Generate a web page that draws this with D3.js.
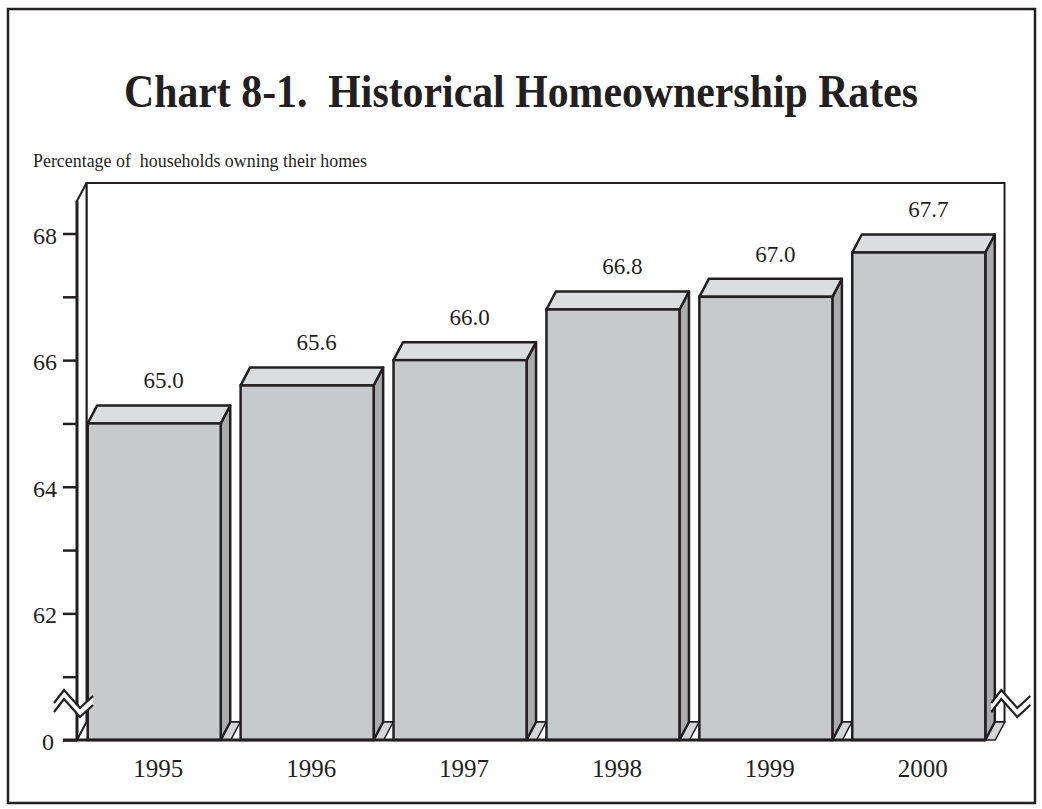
<!DOCTYPE html>
<html>
<head>
<meta charset="utf-8">
<script src="https://cdn.jsdelivr.net/npm/d3@7"></script>
<style>
  html, body { margin: 0; padding: 0; background: #fff; }
  svg text { font-family: "Liberation Serif", "Times New Roman", serif; fill: #231f20; white-space: pre; }
</style>
</head>
<body>
<div id="chart"></div>
<script>
// data
var years = ["1995", "1996", "1997", "1998", "1999", "2000"];
var rates = [65.0, 65.6, 66.0, 66.8, 67.0, 67.7];
var yTicks = [60, 61, 62, 63, 64, 65, 66, 67, 68];
var yTickLabels = ["0", "", "62", "", "64", "", "66", "", "68"];
var title = "Chart 8-1.  Historical Homeownership Rates";
var subtitle = "Percentage of  households owning their homes";

var W = 1042, H = 809;
var ink = "#231f20";
var dx = 9.5, dy = 18;          // depth offset of the 3d look
var base = 740;                 // front floor line
var axisX = 77;

var svg = d3.select("#chart").append("svg")
    .attr("width", W)
    .attr("height", H);

// outer frame
svg.append("rect")
    .attr("x", 8).attr("y", 9)
    .attr("width", 1027).attr("height", 794)
    .attr("fill", "none").attr("stroke", ink).attr("stroke-width", 2.5);

// titles
svg.append("text")
    .attr("x", 124).attr("y", 107)
    .attr("textLength", 794).attr("lengthAdjust", "spacingAndGlyphs")
    .style("font-size", "46px").style("font-weight", "bold")
    .text(title);
svg.append("text")
    .attr("x", 33).attr("y", 167)
    .attr("textLength", 334).attr("lengthAdjust", "spacingAndGlyphs")
    .style("font-size", "18.5px")
    .text(subtitle);

// scales
var x = d3.scaleBand()
    .domain(years)
    .range([axisX, 996])
    .paddingInner(0.13)
    .paddingOuter(0.07);
var y = d3.scaleLinear()
    .domain([60, 68])
    .range([base, 233.5]);

var bw = x.bandwidth();
var yTop = 201;                 // top of the front axis
var wallL = axisX + dx, wallR = 1004.5;

// back wall
svg.append("rect")
    .attr("x", wallL).attr("y", yTop - dy)
    .attr("width", wallR - wallL).attr("height", base - yTop)
    .attr("fill", "#fff").attr("stroke", ink).attr("stroke-width", 2);

// left wall
svg.append("polygon")
    .attr("points", [[axisX, yTop], [wallL, yTop - dy], [wallL, base - dy], [axisX, base]].join(" "))
    .attr("fill", "#fff").attr("stroke", ink).attr("stroke-width", 2)
    .attr("stroke-linejoin", "round");

// bars
var g = svg.append("g");
years.forEach(function(yr, i) {
    var x0 = x(yr), x1 = x0 + bw, yv = y(rates[i]);

    // floor strip behind the bar
    g.append("polygon")
        .attr("points", [[x1, base], [x1 + 10, base], [x1 + 10 + dx, base - dy], [x1 + dx, base - dy]].join(" "))
        .attr("fill", "#d4d5d7").attr("stroke", ink).attr("stroke-width", 1.5);

    // side
    g.append("polygon")
        .attr("points", [[x1, yv], [x1 + dx, yv - dy], [x1 + dx, base - dy], [x1, base]].join(" "))
        .attr("fill", "#a9abae").attr("stroke", ink).attr("stroke-width", 2.5)
        .attr("stroke-linejoin", "round");

    // top
    g.append("polygon")
        .attr("points", [[x0, yv], [x0 + dx, yv - dy], [x1 + dx, yv - dy], [x1, yv]].join(" "))
        .attr("fill", "#dcdddf").attr("stroke", ink).attr("stroke-width", 2.5)
        .attr("stroke-linejoin", "round");

    // front
    g.append("rect")
        .attr("x", x0).attr("y", yv)
        .attr("width", bw).attr("height", base - yv)
        .attr("fill", "#c8c9cb").attr("stroke", ink).attr("stroke-width", 2.5);

    // value label
    g.append("text")
        .attr("x", x0 + bw / 2 + dx)
        .attr("y", yv - 35)
        .attr("text-anchor", "middle")
        .style("font-size", "23px")
        .text(rates[i].toFixed(1));
});

// baseline
svg.append("line")
    .attr("x1", 63).attr("x2", x(years[years.length - 1]) + bw)
    .attr("y1", base).attr("y2", base)
    .attr("stroke", ink).attr("stroke-width", 3);

// y axis
var yAxis = d3.axisLeft(y)
    .tickValues(yTicks)
    .tickSize(14)
    .tickPadding(6)
    .tickFormat(function(d, i) { return yTickLabels[i]; });

var ax = svg.append("g")
    .attr("transform", "translate(" + axisX + ",0)")
    .call(yAxis);
ax.select(".domain").remove();
ax.selectAll(".tick line").attr("stroke", ink).attr("stroke-width", 2.5);
ax.selectAll(".tick text")
    .attr("fill", ink)
    .style("font-family", "'Liberation Serif', serif")
    .style("font-size", "24px")
    .attr("dy", "0.4em");
ax.selectAll(".tick").filter(function(d) { return d === 60; })
    .select("text").attr("x", -23);

svg.append("line")
    .attr("x1", axisX).attr("x2", axisX)
    .attr("y1", yTop).attr("y2", base)
    .attr("stroke", ink).attr("stroke-width", 3);

// axis break marks
function drawBreak(sx, sy) {
    var up = [[0, 0], [10, -13], [26, 5], [39, -7]];
    var lo = up.map(function(p) { return [p[0], p[1] + 9]; });
    var bg = up.concat(lo.slice().reverse()).map(function(p) { return [sx + p[0], sy + p[1]]; });
    svg.append("polygon").attr("points", bg.join(" ")).attr("fill", "#fff");
    [up, lo].forEach(function(pts) {
        svg.append("polyline")
            .attr("points", pts.map(function(p) { return [sx + p[0], sy + p[1]]; }).join(" "))
            .attr("fill", "none").attr("stroke", ink).attr("stroke-width", 2.2);
    });
}
drawBreak(axisX - 23, 703);
drawBreak(x(years[years.length - 1]) + bw + 6, 703);

// x labels
svg.append("g").selectAll("text")
    .data(years)
    .enter().append("text")
    .attr("x", function(d) { return x(d) + bw / 2 + 4; })
    .attr("y", 777)
    .attr("text-anchor", "middle")
    .style("font-size", "25px")
    .text(function(d) { return d; });
</script>
</body>
</html>
